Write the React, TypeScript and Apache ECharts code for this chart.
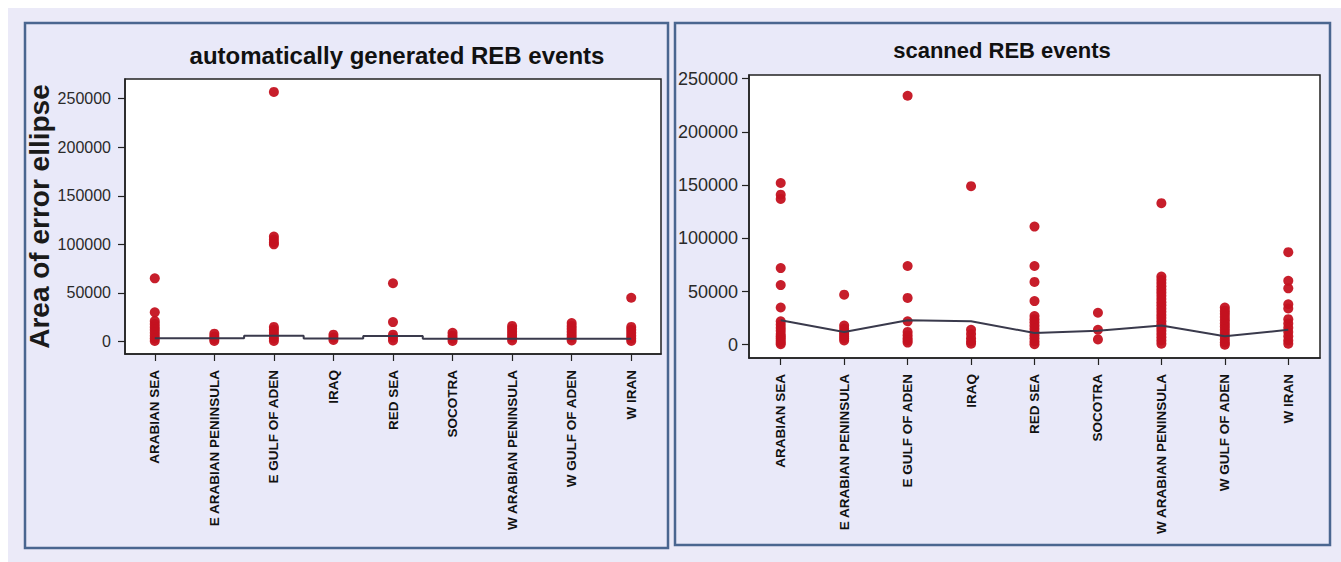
import React, { useEffect, useRef } from "react";
import * as echarts from "echarts";

// Region categories shared by both panels
const categories = [
  "ARABIAN SEA",
  "E ARABIAN PENINSULA",
  "E GULF OF ADEN",
  "IRAQ",
  "RED SEA",
  "SOCOTRA",
  "W ARABIAN PENINSULA",
  "W GULF OF ADEN",
  "W IRAN",
];

const yTicks = [0, 50000, 100000, 150000, 200000, 250000];

// Automatically generated REB events: area of error ellipse per region
const autoArabianSea = [65000, 30000, 21000, 18000, 15000, 12000, 9000, 6000, 3000, 500];
const autoEArabian = [8000, 5000, 2500, 500];
const autoEGulf = [257000, 108000, 105000, 102000, 100000, 15000, 12000, 9000, 6000, 3000, 500];
const autoIraq = [7000, 4000, 1500];
const autoRedSea = [60000, 20000, 7000, 4000, 1000];
const autoSocotra = [9000, 6000, 3000, 500];
const autoWArabian = [16000, 13000, 10000, 7000, 4000, 1000];
const autoWGulf = [19000, 16000, 13000, 10000, 7000, 4000, 1000];
const autoWIran = [45000, 15000, 12000, 9000, 6000, 3000, 500];
const autoMean = [3200, 3200, 5800, 3000, 5700, 2700, 2700, 2700, 2700];

// Scanned REB events
const scanArabianSea = [152000, 141000, 137000, 72000, 56000, 35000, 22000, 19000, 16000, 13000, 10000, 8000, 6000, 4000, 2000, 500];
const scanEArabian = [47000, 18000, 15000, 12000, 10000, 8000, 6000, 4000];
const scanEGulf = [234000, 74000, 44000, 22000, 12000, 9000, 6000, 4000, 2000];
const scanIraq = [149000, 14000, 10000, 6000, 3000, 1000];
const scanRedSea = [111000, 74000, 59000, 41000, 27000, 24000, 21000, 18000, 15000, 12000, 9000, 6000, 3000, 500];
const scanSocotra = [30000, 14000, 5000];
const scanWArabian = [133000, 64000, 61000, 58000, 55000, 52000, 49000, 46000, 43000, 40000, 37000, 34000, 31000, 28000, 25000, 22000, 19000, 16000, 13000, 10000, 7000, 4000, 1000];
const scanWGulf = [35000, 32000, 29000, 26000, 23000, 20000, 17000, 14000, 11000, 8000, 5000, 2000, 0];
const scanWIran = [87000, 60000, 53000, 38000, 34000, 24000, 20000, 16000, 12000, 8000, 4000, 1000];
const scanMean = [23000, 12000, 23000, 22000, 11000, 13000, 18000, 8000, 14000];

const autoGroups = [autoArabianSea, autoEArabian, autoEGulf, autoIraq, autoRedSea, autoSocotra, autoWArabian, autoWGulf, autoWIran];
const scanGroups = [scanArabianSea, scanEArabian, scanEGulf, scanIraq, scanRedSea, scanSocotra, scanWArabian, scanWGulf, scanWIran];

const toPoints = (groups: number[][]) =>
  groups.flatMap((vals, i) => vals.map((v) => [i, v]));

const FONT = "'Liberation Sans', Arial, sans-serif";
const DOT = "#c41220";
const LINE = "#3a3a4c";
const PAGE_BG = "#ebeaf8";
const PANEL_BG = "#e9e9f9";
const PANEL_BORDER = "#4a6690";

function xAxisFor(gridIndex: number) {
  return {
    type: "category",
    gridIndex,
    data: categories,
    boundaryGap: true,
    axisLine: { show: true, onZero: false, lineStyle: { color: "#222", width: 1.5 } },
    axisTick: { show: true, alignWithLabel: true, length: 7, lineStyle: { color: "#222", width: 1.2 } },
    axisLabel: {
      rotate: 90,
      interval: 0,
      margin: 16,
      fontFamily: FONT,
      fontWeight: "bold",
      fontSize: 13.5,
      color: "#111",
    },
    splitLine: { show: false },
  };
}

function yAxisFor(gridIndex: number, min: number, max: number, fontSize: number, margin: number) {
  return {
    type: "value",
    gridIndex,
    min,
    max,
    axisLine: { show: true, onZero: false, lineStyle: { color: "#222", width: 1.5 } },
    axisTick: { show: true, length: 7, customValues: yTicks, lineStyle: { color: "#222", width: 1.2 } },
    axisLabel: {
      customValues: yTicks,
      formatter: (v: number) => String(v),
      margin,
      fontFamily: FONT,
      fontSize,
      color: "#2a2a2a",
    },
    splitLine: { show: false },
  };
}

export default function App() {
  const ref = useRef<HTMLDivElement>(null);

  useEffect(() => {
    if (!ref.current) return;
    const chart = echarts.init(ref.current, null, { renderer: "svg" });

    const leftY = yAxisFor(0, -12900, 270300, 16, 14) as any;
    leftY.name = "Area of error ellipse";
    leftY.nameLocation = "middle";
    leftY.nameGap = 72;
    leftY.nameTextStyle = { fontFamily: FONT, fontWeight: "bold", fontSize: 28, color: "#1a1a1a" };

    chart.setOption({
      animation: false,
      backgroundColor: "#ffffff",
      graphic: [
        { type: "rect", z: -100, silent: true, shape: { x: 8, y: 8, width: 1333, height: 554 }, style: { fill: PAGE_BG } },
        { type: "rect", z: -90, silent: true, shape: { x: 25, y: 23, width: 643, height: 525 }, style: { fill: PANEL_BG, stroke: PANEL_BORDER, lineWidth: 2.5 } },
        { type: "rect", z: -90, silent: true, shape: { x: 675, y: 23, width: 655, height: 522 }, style: { fill: PANEL_BG, stroke: PANEL_BORDER, lineWidth: 2.5 } },
        {
          type: "text",
          x: 397,
          y: 55,
          style: {
            text: "automatically generated REB events",
            fontFamily: FONT,
            fontWeight: "bold",
            fontSize: 24,
            fill: "#111",
            align: "center",
            verticalAlign: "middle",
          },
        },
        {
          type: "text",
          x: 1002,
          y: 50,
          style: {
            text: "scanned REB events",
            fontFamily: FONT,
            fontWeight: "bold",
            fontSize: 22,
            fill: "#111",
            align: "center",
            verticalAlign: "middle",
          },
        },
      ],
      grid: [
        { left: 125, top: 79, width: 536, height: 275, show: true, backgroundColor: "#ffffff", borderColor: "#222", borderWidth: 1.5 },
        { left: 749, top: 75, width: 571, height: 283, show: true, backgroundColor: "#ffffff", borderColor: "#222", borderWidth: 1.5 },
      ],
      xAxis: [xAxisFor(0), xAxisFor(1)],
      yAxis: [leftY, yAxisFor(1, -12500, 253500, 18, 11)],
      series: [
        {
          type: "scatter",
          xAxisIndex: 0,
          yAxisIndex: 0,
          data: toPoints(autoGroups),
          symbol: "circle",
          symbolSize: 10,
          itemStyle: { color: DOT, opacity: 0.95 },
          z: 2,
        },
        {
          type: "line",
          xAxisIndex: 0,
          yAxisIndex: 0,
          data: autoMean,
          step: "middle",
          showSymbol: false,
          symbol: "none",
          lineStyle: { color: LINE, width: 2 },
          z: 3,
        },
        {
          type: "scatter",
          xAxisIndex: 1,
          yAxisIndex: 1,
          data: toPoints(scanGroups),
          symbol: "circle",
          symbolSize: 10,
          itemStyle: { color: DOT, opacity: 0.95 },
          z: 2,
        },
        {
          type: "line",
          xAxisIndex: 1,
          yAxisIndex: 1,
          data: scanMean,
          showSymbol: false,
          symbol: "none",
          lineStyle: { color: LINE, width: 2 },
          z: 3,
        },
      ],
    });

    return () => chart.dispose();
  }, []);

  return (
    <div
      ref={ref}
      style={{ position: "absolute", left: 0, top: 0, width: 1341, height: 562 }}
    />
  );
}
